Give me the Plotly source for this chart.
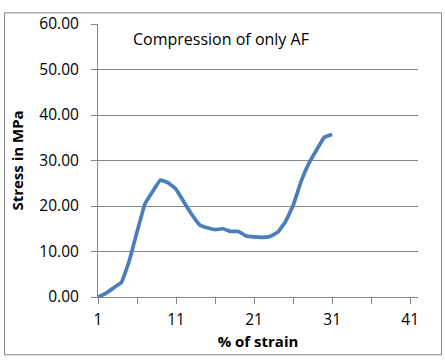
import plotly.graph_objects as go

strain = list(range(1, 32))
stress = [0.0, 0.8, 2.0, 3.2, 7.9, 14.3, 20.4, 23.2, 25.7, 25.1, 23.7, 20.9, 18.2, 15.9,
          15.2, 14.8, 15.0, 14.4, 14.4, 13.4, 13.2, 13.1, 13.3, 14.2, 16.5, 20.1, 25.3,
          29.3, 32.3, 35.1, 35.7]
x_tickvals = [1, 11, 21, 31, 41]
y_tickvals = [0, 10, 20, 30, 40, 50, 60]

W, H = 445, 362
L, R, T, B = 98, 27, 16, 65
font = "'Open Sans', sans-serif"
gray = "#868686"

fig = go.Figure()
fig.add_trace(go.Scatter(x=strain, y=stress, mode="lines",
                         line=dict(color="#4a7ebb", width=3.7, shape="spline", smoothing=0.25),
                         hoverinfo="skip", showlegend=False))

pw = W - L - R
ph = H - T - B
def px2x(p):
    return (p - L) / pw
def py2y(p):
    return (H - B - p) / ph

fig.update_layout(
    width=W, height=H,
    margin=dict(l=L, r=R, t=T, b=B, pad=0),
    paper_bgcolor="white", plot_bgcolor="white",
    font=dict(family=font, color="#000000"),
    xaxis=dict(range=[1, 42], tickvals=x_tickvals, ticks="outside", ticklen=6,
               tickcolor=gray, showline=True, linecolor=gray, linewidth=1,
               showgrid=False, zeroline=False, tickfont=dict(size=15.5),
               ticklabelstandoff=2,
               minor=dict(dtick=5, tick0=1, ticks="outside", ticklen=6, tickcolor=gray),
               title=dict(text="<b>% of strain</b>", font=dict(size=15), standoff=7)),
    yaxis=dict(range=[0, 60], tickvals=y_tickvals, tickformat=".2f", ticks="outside",
               ticklen=6, tickcolor=gray, showline=True, linecolor=gray,
               linewidth=1, showgrid=True, gridcolor=gray, gridwidth=1,
               zeroline=False, tickfont=dict(size=15.5), ticklabelstandoff=9,
               title=dict(text="<b>Stress in MPa</b>", font=dict(size=15), standoff=12)),
    annotations=[dict(text="Compression of only AF", xref="paper", yref="paper",
                      x=px2x(131), y=py2y(31), xanchor="left", yanchor="middle",
                      showarrow=False, font=dict(size=16, family=font))],
    shapes=[dict(type="rect", xref="paper", yref="paper", layer="above",
                 x0=px2x(4.5), x1=px2x(441.5), y0=py2y(356.5), y1=py2y(4.5),
                 line=dict(color=gray, width=1))],
)

fig.write_html("out.html", config={"displayModeBar": False, "staticPlot": True},
               post_script="document.body.style.margin='0';document.body.style.overflow='hidden';")
